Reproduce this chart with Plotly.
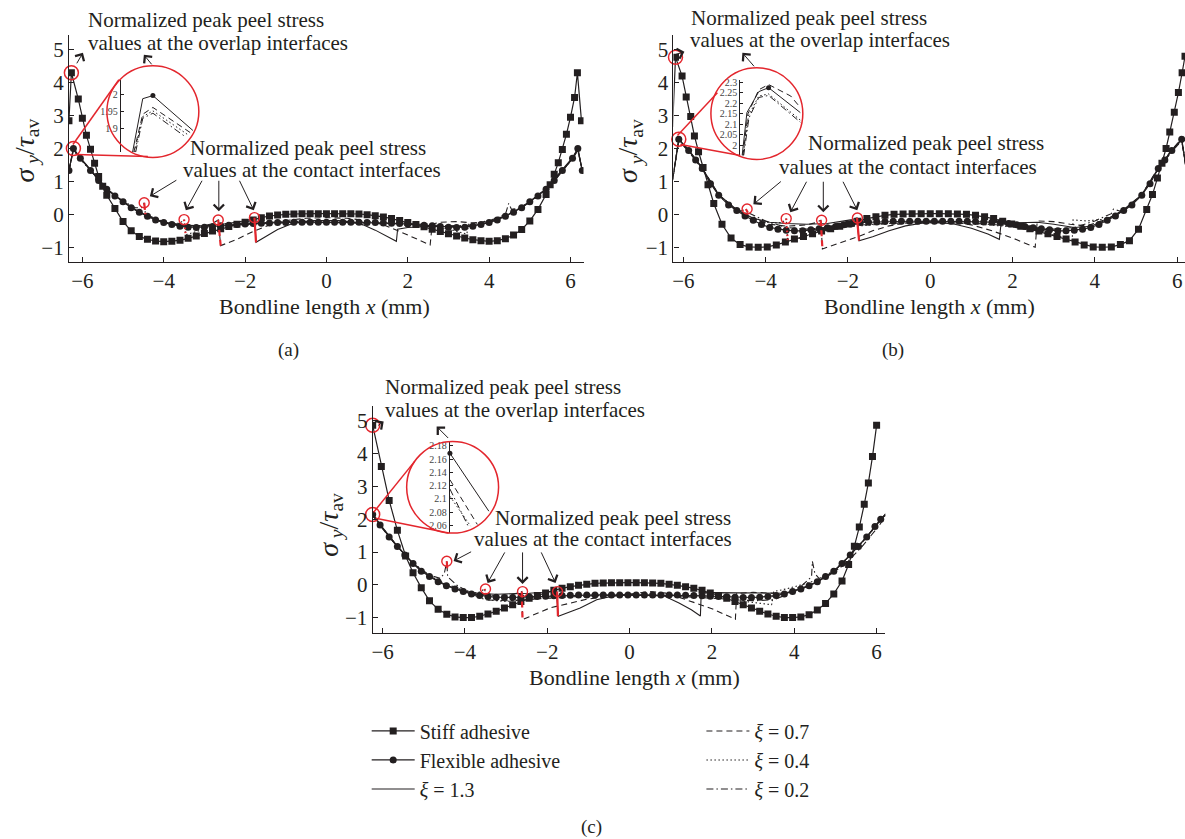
import plotly.graph_objects as go

W, H = 1185, 839
FONT = "Liberation Serif"
INK = "#231f20"
RED = "#e3262d"

# ============================ DATA ============================
X_TICKS = [-6, -4, -2, 0, 2, 4, 6]
Y_TICKS = [-1, 0, 1, 2, 3, 4, 5]
SERIES_NAMES = ["Stiff adhesive", "Flexible adhesive"]
XI_NAMES = ["<i>ξ</i> = 1.3", "<i>ξ</i> = 0.7", "<i>ξ</i> = 0.4", "<i>ξ</i> = 0.2"]
OVERLAP_TEXT = ["Normalized peak peel stress", "values at the overlap interfaces"]
CONTACT_TEXT = ["Normalized peak peel stress", "values at the contact interfaces"]
PANEL_LABELS = ["(a)", "(b)", "(c)"]

# ---------- panel (a) ----------
STIFF_A_X = [-6.33, -6.27, -6.1, -6.0, -5.9, -5.8, -5.7, -5.6, -5.5, -5.4, -5.2, -5.0, -4.8, -4.6, -4.4,
             -4.2, -4.0, -3.8, -3.6, -3.4, -3.2, -3.0, -2.8, -2.6, -2.4, -2.2, -2.0, -1.8, -1.6, -1.4,
             -1.2, -1.0, -0.8, -0.6, -0.4, -0.2, 0.0, 0.2, 0.4, 0.6, 0.8, 1.0, 1.2, 1.4, 1.6, 1.8, 2.0,
             2.2, 2.4, 2.6, 2.8, 3.0, 3.2, 3.4, 3.6, 3.8, 4.0, 4.2, 4.4, 4.6, 4.8, 5.0, 5.2, 5.4, 5.5,
             5.6, 5.7, 5.8, 5.9, 6.0, 6.1, 6.17, 6.27]
STIFF_A_Y = [2.84, 4.3, 3.5, 2.92, 2.4, 1.98, 1.55, 1.15, 0.85, 0.58, 0.18, -0.22, -0.5, -0.67, -0.76,
             -0.81, -0.83, -0.82, -0.79, -0.73, -0.66, -0.58, -0.51, -0.44, -0.37, -0.3, -0.24, -0.17,
             -0.1, -0.05, -0.02, 0.0, 0.01, 0.02, 0.02, 0.02, 0.02, 0.02, 0.02, 0.02, 0.01, -0.01,
             -0.04, -0.08, -0.13, -0.19, -0.25, -0.31, -0.38, -0.45, -0.52, -0.59, -0.66, -0.72,
             -0.77, -0.8, -0.82, -0.8, -0.74, -0.63, -0.46, -0.2, 0.15, 0.6, 0.9, 1.22, 1.57, 1.97,
             2.43, 2.95, 3.55, 4.3, 2.84]
FLEX_A_X = [-6.33, -6.22, -6.05, -5.8, -5.6, -5.4, -5.2, -5.0, -4.8, -4.6, -4.4, -4.2, -4.0, -3.8, -3.6,
            -3.4, -3.2, -3.0, -2.8, -2.6, -2.4, -2.2, -2.0, -1.8, -1.6, -1.4, -1.2, -1.0, -0.8, -0.6,
            -0.4, -0.2, 0.0, 0.2, 0.4, 0.6, 0.8, 1.0, 1.2, 1.4, 1.6, 1.8, 2.0, 2.2, 2.4, 2.6, 2.8, 3.0,
            3.2, 3.4, 3.6, 3.8, 4.0, 4.2, 4.4, 4.6, 4.8, 5.0, 5.2, 5.4, 5.6, 5.8, 6.05, 6.18, 6.29]
FLEX_A_Y = [1.33, 2.0, 1.7, 1.33, 1.03, 0.76, 0.56, 0.38, 0.2, 0.06, -0.06, -0.17, -0.25, -0.31, -0.36,
            -0.39, -0.4, -0.39, -0.37, -0.35, -0.33, -0.31, -0.29, -0.28, -0.27, -0.26, -0.25, -0.25,
            -0.24, -0.24, -0.24, -0.24, -0.24, -0.24, -0.24, -0.24, -0.24, -0.25, -0.25, -0.26, -0.27,
            -0.28, -0.29, -0.31, -0.33, -0.35, -0.37, -0.39, -0.4, -0.39, -0.36, -0.31, -0.25, -0.17,
            -0.06, 0.06, 0.2, 0.38, 0.56, 0.76, 1.03, 1.33, 1.7, 2.0, 1.33]
XI13_A_X = [-6.33, -6.22, -6.05, -5.8, -5.4, -5.0, -4.6, -4.2, -3.8, -3.4, -3.0, -2.6, -2.2, -1.95, -1.77,
            -1.73, -1.5, -1.2, -0.9, -0.6, -0.3, 0.0, 0.3, 0.6, 0.9, 1.2, 1.5, 1.72, 1.75, 2.0, 2.5, 3.0,
            3.4, 3.8, 4.2, 4.6, 5.0, 5.4, 5.8, 6.05, 6.18, 6.29]
XI13_A_Y = [1.33, 2.0, 1.72, 1.35, 0.78, 0.39, 0.07, -0.16, -0.29, -0.35, -0.35, -0.31, -0.25, -0.19, -0.1,
            -0.85, -0.68, -0.46, -0.31, -0.23, -0.19, -0.18, -0.19, -0.23, -0.32, -0.48, -0.67, -0.82,
            -0.45, -0.4, -0.37, -0.37, -0.37, -0.3, -0.16, 0.07, 0.39, 0.78, 1.35, 1.72, 2.0, 1.33]
XI07_A_X = [-6.33, -6.22, -6.05, -5.8, -5.4, -5.0, -4.6, -4.2, -3.8, -3.4, -3.0, -2.8, -2.66, -2.6, -2.2,
            -1.8, -1.4, -1.0, -0.5, 0.0, 0.5, 1.0, 1.4, 1.8, 2.2, 2.55, 2.6, 2.8, 3.2, 3.6, 4.0, 4.4,
            4.8, 5.2, 5.6, 5.9, 6.05, 6.18, 6.29]
XI07_A_Y = [1.33, 1.96, 1.7, 1.34, 0.77, 0.38, 0.06, -0.17, -0.3, -0.36, -0.34, -0.28, -0.17, -0.95,
            -0.76, -0.52, -0.32, -0.19, -0.12, -0.1, -0.12, -0.19, -0.32, -0.52, -0.74, -0.93, -0.3,
            -0.24, -0.22, -0.26, -0.22, -0.04, 0.2, 0.55, 1.0, 1.45, 1.7, 1.96, 1.33]
XI04_A_X = [-6.33, -6.22, -6.05, -5.8, -5.4, -5.0, -4.6, -4.2, -3.8, -3.6, -3.5, -3.46, -3.0, -2.5, -2.0,
            -1.0, 0.0, 1.0, 2.0, 2.5, 3.0, 3.45, 3.5, 3.8, 4.2, 4.6, 5.0, 5.4, 5.8, 6.05, 6.18, 6.29]
XI04_A_Y = [1.33, 1.95, 1.69, 1.33, 0.77, 0.38, 0.06, -0.15, -0.27, -0.27, -0.16, -0.62, -0.45, -0.34,
            -0.28, -0.22, -0.2, -0.22, -0.28, -0.34, -0.45, -0.6, -0.3, -0.24, -0.12, 0.07, 0.38, 0.77,
            1.33, 1.69, 1.95, 1.33]
XI02_A_X = [-6.33, -6.22, -6.05, -5.8, -5.4, -5.0, -4.7, -4.55, -4.48, -4.45, -4.0, -3.5, -3.0, -2.0, -1.0,
            0.0, 1.0, 2.0, 3.0, 3.5, 4.0, 4.4, 4.48, 4.55, 4.8, 5.0, 5.4, 5.8, 6.05, 6.18, 6.29]
XI02_A_Y = [1.33, 1.94, 1.68, 1.32, 0.76, 0.4, 0.2, 0.2, 0.35, 0.0, -0.22, -0.33, -0.35, -0.3, -0.26,
            -0.25, -0.26, -0.3, -0.35, -0.33, -0.2, 0.0, 0.33, 0.15, 0.2, 0.38, 0.76, 1.32, 1.68, 1.94, 1.33]
RED_A_X = [[-1.77, -1.73], [-2.66, -2.6], [-3.5, -3.46], [-4.48, -4.45]]
RED_A_Y = [[-0.1, -0.85], [-0.17, -0.95], [-0.16, -0.62], [0.35, 0.0]]
CONTACT_A_X = [-4.48, -3.5, -2.66, -1.77]
CONTACT_A_Y = [0.35, -0.16, -0.17, -0.1]
OVERLAP_A_X = [-6.27, -6.22]
OVERLAP_A_Y = [4.3, 2.0]

# ---------- panel (b) ----------
STIFF_B_X = [-6.26, -6.19, -6.03, -5.93, -5.82, -5.73, -5.63, -5.52, -5.4, -5.26, -5.06, -4.84, -4.62,
             -4.4, -4.18, -3.96, -3.74, -3.52, -3.3, -3.08, -2.86, -2.64, -2.42, -2.2, -1.98, -1.76,
             -1.54, -1.32, -1.1, -0.88, -0.66, -0.44, -0.22, 0.0, 0.22, 0.44, 0.66, 0.88, 1.1, 1.32,
             1.54, 1.76, 1.98, 2.2, 2.42, 2.64, 2.86, 3.08, 3.3, 3.52, 3.74, 3.96, 4.18, 4.4, 4.62,
             4.84, 5.06, 5.26, 5.4, 5.52, 5.63, 5.73, 5.82, 5.93, 6.03, 6.12, 6.19]
STIFF_B_Y = [2.65, 4.77, 4.2, 3.56, 2.97, 2.38, 1.9, 1.42, 0.9, 0.33, -0.3, -0.72, -0.92, -0.99, -1.0,
             -0.99, -0.93, -0.84, -0.75, -0.67, -0.59, -0.51, -0.44, -0.36, -0.29, -0.21, -0.13, -0.07,
             -0.03, 0.0, 0.01, 0.02, 0.02, 0.02, 0.02, 0.02, 0.01, 0.0, -0.03, -0.07, -0.13, -0.21,
             -0.29, -0.36, -0.44, -0.51, -0.59, -0.67, -0.75, -0.84, -0.93, -0.99, -1.0, -0.99, -0.92,
             -0.8, -0.45, 0.15, 0.6, 1.1, 1.55, 2.0, 2.5, 3.1, 3.7, 4.3, 4.8]
FLEX_B_X = [-6.26, -6.11, -5.87, -5.7, -5.54, -5.34, -5.14, -4.9, -4.7, -4.5, -4.3, -4.1, -3.9, -3.7, -3.5,
            -3.3, -3.1, -2.9, -2.7, -2.5, -2.3, -2.1, -1.9, -1.7, -1.5, -1.3, -1.1, -0.9, -0.7, -0.5,
            -0.3, -0.1, 0.1, 0.3, 0.5, 0.7, 0.9, 1.1, 1.3, 1.5, 1.7, 1.9, 2.1, 2.3, 2.5, 2.7, 2.9, 3.1,
            3.3, 3.5, 3.7, 3.9, 4.1, 4.3, 4.5, 4.7, 4.9, 5.14, 5.34, 5.54, 5.7, 5.87, 6.11, 6.26]
FLEX_B_Y = [1.05, 2.28, 1.94, 1.65, 1.39, 0.93, 0.58,
            0.28, 0.12, -0.05, -0.18, -0.31, -0.4, -0.45, -0.48, -0.5, -0.5, -0.47, -0.44, -0.41,
            -0.37, -0.32, -0.28, -0.25, -0.24, -0.23, -0.22, -0.21, -0.21, -0.21, -0.21, -0.21,
            -0.21, -0.21, -0.21, -0.21, -0.21, -0.22, -0.23, -0.24, -0.25, -0.28, -0.32, -0.37,
            -0.41, -0.44, -0.47, -0.5, -0.5, -0.48, -0.45, -0.4, -0.31, -0.18, -0.05, 0.12, 0.28,
            0.58, 0.93, 1.39, 1.65, 1.94, 2.28, 1.05]
XI13_B_X = [-6.26, -6.11, -5.87, -5.54, -5.14, -4.7, -4.3, -3.9, -3.5, -3.0, -2.5, -2.1, -1.9, -1.78, -1.73,
            -1.4, -1.0, -0.6, -0.2, 0.2, 0.6, 1.0, 1.4, 1.68, 1.72, 2.0, 2.6, 3.0, 3.5, 3.9, 4.3, 4.7,
            5.14, 5.54, 5.87, 6.11, 6.26]
XI13_B_Y = [1.05, 2.28, 1.95, 1.4, 0.6, 0.14, -0.12, -0.24, -0.28, -0.3, -0.28, -0.2, -0.16, -0.11, -0.8,
            -0.68, -0.5, -0.35, -0.27, -0.25, -0.3, -0.42, -0.6, -0.76, -0.28, -0.26, -0.24, -0.3, -0.4,
            -0.36, -0.16, 0.14, 0.6, 1.4, 1.95, 2.28, 1.05]
XI07_B_X = [-6.26, -6.11, -5.87, -5.54, -5.14, -4.7, -4.3, -3.9, -3.5, -3.0, -2.8, -2.66, -2.62, -2.2, -1.8,
            -1.4, -1.0, -0.5, 0.0, 0.5, 1.0, 1.5, 2.0, 2.55, 2.6, 3.0, 3.4, 3.8, 4.3, 4.7, 5.14, 5.54,
            5.87, 6.11, 6.26]
XI07_B_Y = [1.05, 2.3, 1.96, 1.41, 0.6, 0.13, -0.14, -0.3, -0.36, -0.32, -0.26, -0.18, -1.05, -0.88, -0.7,
            -0.5, -0.35, -0.25, -0.2, -0.22, -0.32, -0.5, -0.72, -1.0, -0.2, -0.22, -0.3, -0.35, -0.14,
            0.13, 0.6, 1.41, 1.96, 2.3, 1.05]
XI04_B_X = [-6.26, -6.11, -5.87, -5.54, -5.14, -4.7, -4.3, -3.9, -3.6, -3.5, -3.46, -3.0, -2.5, -2.0, -1.0,
            0.0, 1.0, 2.0, 2.5, 3.0, 3.45, 3.47, 3.8, 4.3, 4.7, 5.14, 5.54, 5.87, 6.11, 6.26]
XI04_B_Y = [1.05, 2.24, 1.92, 1.38, 0.58, 0.12, -0.14, -0.26, -0.25, -0.13, -0.85, -0.65, -0.5, -0.38,
            -0.28, -0.24, -0.28, -0.38, -0.5, -0.62, -0.78, -0.17, -0.2, -0.14, 0.12, 0.58, 1.38, 1.92,
            2.24, 1.05]
XI02_B_X = [-6.26, -6.11, -5.87, -5.54, -5.14, -4.8, -4.6, -4.48, -4.43, -4.0, -3.5, -3.0, -2.0, -1.0, 0.0,
            1.0, 2.0, 3.0, 3.5, 4.0, 4.4, 4.45, 4.6, 4.8, 5.14, 5.54, 5.87, 6.11, 6.26]
XI02_B_Y = [1.05, 2.23, 1.91, 1.37, 0.58, 0.2, 0.1, 0.16, 0.05, -0.2, -0.4, -0.45, -0.35, -0.27, -0.25,
            -0.27, -0.35, -0.45, -0.4, -0.2, 0.02, 0.16, 0.1, 0.2, 0.58, 1.37, 1.91, 2.23, 1.05]
RED_B_X = [[-1.78, -1.73], [-2.66, -2.62], [-3.5, -3.46], [-4.48, -4.43]]
RED_B_Y = [[-0.11, -0.8], [-0.18, -1.05], [-0.13, -0.85], [0.16, 0.05]]
CONTACT_B_X = [-4.45, -3.5, -2.64, -1.77]
CONTACT_B_Y = [0.16, -0.13, -0.18, -0.11]
OVERLAP_B_X = [-6.19, -6.11]
OVERLAP_B_Y = [4.77, 2.28]

# ---------- panel (c) ----------
STIFF_C_X = [-6.24, -6.03, -5.84, -5.64, -5.44, -5.26, -5.06, -4.86, -4.65, -4.44, -4.24, -4.04, -3.84,
             -3.64, -3.44, -3.24, -3.04, -2.84, -2.64, -2.44, -2.24, -2.04, -1.84, -1.64, -1.44, -1.24,
             -1.04, -0.84, -0.64, -0.44, -0.24, -0.04, 0.16, 0.36, 0.56, 0.76, 0.96, 1.16, 1.36, 1.56,
             1.76, 1.96, 2.16, 2.36, 2.56, 2.76, 2.96, 3.16, 3.36, 3.56, 3.76, 3.96, 4.16, 4.36, 4.56,
             4.76, 4.96, 5.16, 5.32, 5.46, 5.58, 5.7, 5.8, 5.9, 6.0]
STIFF_C_Y = [4.85, 3.6, 2.57, 1.66, 0.88, 0.37, -0.08, -0.48, -0.74, -0.89, -0.97, -0.99, -0.99, -0.95,
             -0.88, -0.8, -0.7, -0.6, -0.5, -0.4, -0.32, -0.24, -0.16, -0.1, -0.05, -0.01, 0.02, 0.05,
             0.06, 0.07, 0.07, 0.07, 0.07, 0.07, 0.06, 0.05, 0.02, -0.01, -0.05, -0.1, -0.16, -0.24,
             -0.32, -0.4, -0.5, -0.6, -0.7, -0.8, -0.88, -0.95, -0.99, -0.99, -0.97, -0.9, -0.76,
             -0.56, -0.27, 0.12, 0.62, 1.18, 1.76, 2.45, 3.1, 3.9, 4.85]
FLEX_C_X = [-6.24, -6.06, -5.84, -5.64, -5.46, -5.26, -5.06, -4.86, -4.65, -4.45, -4.24, -4.04,
            -3.84, -3.64, -3.44, -3.24, -3.04, -2.84, -2.64, -2.44, -2.24, -2.04, -1.84, -1.64, -1.44,
            -1.24, -1.04, -0.84, -0.64, -0.44, -0.24, -0.04, 0.16, 0.36, 0.56, 0.76, 0.96, 1.16, 1.36,
            1.56, 1.76, 1.96, 2.16, 2.36, 2.56, 2.76, 2.96, 3.16, 3.36, 3.56, 3.76, 3.96, 4.16, 4.36,
            4.56, 4.76, 4.96, 5.16, 5.36, 5.56, 5.76, 5.96, 6.1, 6.22]
FLEX_C_Y = [2.14, 1.82, 1.46, 1.17, 0.91, 0.65, 0.42, 0.26, 0.1, -0.02, -0.12, -0.2,
            -0.27, -0.32, -0.35, -0.37, -0.38, -0.38, -0.37, -0.36, -0.35, -0.34, -0.33, -0.32, -0.31,
            -0.3, -0.3, -0.3, -0.3, -0.3, -0.3, -0.3, -0.3, -0.3, -0.3, -0.3, -0.3, -0.3, -0.31,
            -0.32, -0.33, -0.34, -0.35, -0.36, -0.37, -0.38, -0.38, -0.37, -0.35, -0.32, -0.27, -0.2,
            -0.12, -0.02, 0.1, 0.26, 0.42, 0.65, 0.91, 1.17, 1.46, 1.78, 2.0, 2.15]
XI13_C_X = [-6.24, -6.06, -5.64, -5.26, -4.86, -4.45, -4.04, -3.64, -3.24, -2.84, -2.44, -2.1, -1.9, -1.78,
            -1.73, -1.2, -0.8, -0.4, 0.0, 0.4, 0.83, 1.2, 1.5, 1.72, 1.74, 2.0, 2.6, 3.0, 3.4, 3.76,
            4.16, 4.56, 4.96, 5.36, 5.76, 6.1, 6.22]
XI13_C_Y = [2.17, 1.84, 1.18, 0.66, 0.27, -0.01, -0.18, -0.26, -0.28, -0.27, -0.25, -0.22, -0.2, -0.18,
            -0.95, -0.7, -0.45, -0.33, -0.3, -0.31, -0.33, -0.55, -0.75, -0.94, -0.24, -0.23, -0.23,
            -0.23, -0.24, -0.25, -0.11, 0.1, 0.42, 0.91, 1.46, 2.0, 2.17]
XI07_C_X = [-6.24, -6.06, -5.64, -5.26, -4.86, -4.45, -4.04, -3.64, -3.24, -2.9, -2.7, -2.62, -2.6, -1.92,
            -1.03, -0.06, 0.5, 0.92, 1.5, 2.0, 2.57, 2.6, 3.0, 3.4, 3.76, 4.16, 4.56, 4.96, 5.36, 5.76,
            6.1, 6.22]
XI07_C_Y = [2.13, 1.82, 1.17, 0.65, 0.26, -0.02, -0.2, -0.29, -0.32, -0.3, -0.24, -0.2, -1.05, -0.69,
            -0.43, -0.27, -0.2, -0.25, -0.5, -0.72, -1.04, -0.26, -0.22, -0.24, -0.27, -0.13, 0.09,
            0.41, 0.9, 1.45, 1.98, 2.13]
XI04_C_X = [-6.24, -6.06, -5.64, -5.26, -4.86, -4.45, -4.04, -3.7, -3.52, -3.48, -3.0, -2.5, -2.0, -1.0,
            0.0, 1.0, 2.0, 2.5, 3.0, 3.45, 3.5, 3.8, 4.16, 4.56, 4.96, 5.36, 5.76, 6.1, 6.22]
XI04_C_Y = [2.12, 1.81, 1.17, 0.66, 0.28, 0.02, -0.15, -0.25, -0.12, -0.45, -0.5, -0.45, -0.38, -0.32,
            -0.3, -0.32, -0.38, -0.45, -0.52, -0.6, -0.2, -0.12, 0.0, 0.15, 0.43, 0.91, 1.46, 1.97, 2.12]
XI02_C_X = [-6.24, -6.06, -5.64, -5.26, -4.86, -4.6, -4.5, -4.44, -4.42, -4.2, -3.8, -3.5, -3.0, -2.0,
            -1.0, 0.0, 1.0, 2.0, 3.0, 3.5, 3.8, 4.2, 4.42, 4.44, 4.5, 4.6, 4.86, 5.26, 5.64, 6.06, 6.22]
XI02_C_Y = [2.11, 1.8, 1.16, 0.66, 0.3, 0.2, 0.35, 0.72, 0.25, 0.0, -0.3, -0.45, -0.48, -0.4, -0.33,
            -0.3, -0.33, -0.4, -0.48, -0.45, -0.3, 0.0, 0.25, 0.72, 0.35, 0.2, 0.3, 0.66, 1.16, 1.8, 2.11]
RED_C_X = [[-1.76, -1.74], [-2.62, -2.6], [-3.52, -3.5], [-4.44, -4.43]]
RED_C_Y = [[-0.2, -0.95], [-0.2, -1.05], [-0.12, -0.3], [0.72, 0.5]]
CONTACT_C_X = [-4.44, -3.5, -2.6, -1.75]
CONTACT_C_Y = [0.72, -0.12, -0.2, -0.2]
OVERLAP_C_X = [-6.24, -6.24]
OVERLAP_C_Y = [4.85, 2.14]

# ---------- zoomed insets (peak of flexible adhesive curves) ----------
INSET_A_X = [[-6.262, -6.229, -6.196, -6.066], [-6.258, -6.229, -6.196, -6.075],
             [-6.255, -6.229, -6.196, -6.08], [-6.252, -6.229, -6.196, -6.09]]
INSET_A_Y = [[1.83, 1.988, 1.997, 1.894], [1.83, 1.942, 1.962, 1.888],
             [1.83, 1.935, 1.952, 1.88], [1.83, 1.93, 1.945, 1.875]]
INSET_A_DOT = ([-6.196], [1.997])
INSET_A_TICKS = [1.9, 1.95, 2.0]
INSET_A_TICKTEXT = ["1.9", "1.95", "2"]

INSET_B_X = [[-6.293, -6.274, -6.227, -6.188, -6.062], [-6.29, -6.27, -6.227, -6.188, -6.1, -6.062],
             [-6.289, -6.268, -6.227, -6.188, -6.062], [-6.287, -6.266, -6.227, -6.188, -6.062]]
INSET_B_Y = [[1.95, 2.156, 2.256, 2.275, 2.156], [1.95, 2.15, 2.265, 2.29, 2.235, 2.18],
             [1.95, 2.14, 2.235, 2.245, 2.12], [1.95, 2.13, 2.228, 2.238, 2.11]]
INSET_B_DOT = ([-6.188], [2.275])
INSET_B_TICKS = [2.0, 2.05, 2.1, 2.15, 2.2, 2.25, 2.3]
INSET_B_TICKTEXT = ["2", "2.05", "2.1", "2.15", "2.2", "2.25", "2.3"]

INSET_C_X = [[-6.24, -6.044], [-6.24, -6.102], [-6.24, -6.136], [-6.24, -6.15]]
INSET_C_Y = [[2.169, 2.0815], [2.129, 2.0615], [2.104, 2.059], [2.115, 2.06]]
INSET_C_DOT = ([-6.24], [2.169])
INSET_C_TICKS = [2.06, 2.08, 2.1, 2.12, 2.14, 2.16, 2.18]
INSET_C_TICKTEXT = ["2.06", "2.08", "2.1", "2.12", "2.14", "2.16", "2.18"]

# ============================ STYLE / LAYOUT ============================
def px(v):
    return v / W


def py(v):
    return 1 - v / H


XI_DASH = ["solid", "6px,4px", "1.5px,2.5px", "7px,3px,1.5px,3px"]
XI_LEGEND = ["legend", "legend2", "legend2", "legend2"]

PANELS = [
    dict(xr="x", yr="y", stiff=(STIFF_A_X, STIFF_A_Y), flex=(FLEX_A_X, FLEX_A_Y),
         xi=[(XI13_A_X, XI13_A_Y), (XI07_A_X, XI07_A_Y), (XI04_A_X, XI04_A_Y), (XI02_A_X, XI02_A_Y)],
         red=(RED_A_X, RED_A_Y), contact=(CONTACT_A_X, CONTACT_A_Y), overlap=(OVERLAP_A_X, OVERLAP_A_Y),
         dom_x=(68, 583), dom_y=(32, 260), xrange=(-6.33, 6.32)),
    dict(xr="x2", yr="y2", stiff=(STIFF_B_X, STIFF_B_Y), flex=(FLEX_B_X, FLEX_B_Y),
         xi=[(XI13_B_X, XI13_B_Y), (XI07_B_X, XI07_B_Y), (XI04_B_X, XI04_B_Y), (XI02_B_X, XI02_B_Y)],
         red=(RED_B_X, RED_B_Y), contact=(CONTACT_B_X, CONTACT_B_Y), overlap=(OVERLAP_B_X, OVERLAP_B_Y),
         dom_x=(673, 1185), dom_y=(32, 260), xrange=(-6.24, 6.19)),
    dict(xr="x3", yr="y3", stiff=(STIFF_C_X, STIFF_C_Y), flex=(FLEX_C_X, FLEX_C_Y),
         xi=[(XI13_C_X, XI13_C_Y), (XI07_C_X, XI07_C_Y), (XI04_C_X, XI04_C_Y), (XI02_C_X, XI02_C_Y)],
         red=(RED_C_X, RED_C_Y), contact=(CONTACT_C_X, CONTACT_C_Y), overlap=(OVERLAP_C_X, OVERLAP_C_Y),
         dom_x=(372, 885), dom_y=(404, 632), xrange=(-6.24, 6.21)),
]
Y_RANGE = (-1.45, 5.45)

fig = go.Figure()

for pi, P in enumerate(PANELS):
    first = pi == 0
    for k, (xs, ys) in enumerate(P["xi"]):
        fig.add_trace(go.Scatter(
            x=xs, y=ys, mode="lines", xaxis=P["xr"], yaxis=P["yr"],
            line=dict(color=INK, width=1.1, dash=XI_DASH[k]),
            name=XI_NAMES[k], showlegend=first, legend=XI_LEGEND[k], legendrank=3 + k,
            hoverinfo="skip"))
    fx, fy = P["flex"]
    fig.add_trace(go.Scatter(
        x=fx, y=fy, mode="lines+markers", xaxis=P["xr"], yaxis=P["yr"],
        line=dict(color=INK, width=1.2), marker=dict(symbol="circle", size=7, color=INK),
        name=SERIES_NAMES[1], showlegend=first, legend="legend", legendrank=2))
    sx, sy = P["stiff"]
    fig.add_trace(go.Scatter(
        x=sx, y=sy, mode="lines+markers", xaxis=P["xr"], yaxis=P["yr"],
        line=dict(color=INK, width=1.2), marker=dict(symbol="square", size=7, color=INK),
        name=SERIES_NAMES[0], showlegend=first, legend="legend", legendrank=1))
    rx, ry = P["red"]
    for k in range(4):
        fig.add_trace(go.Scatter(
            x=rx[k], y=ry[k], mode="lines", xaxis=P["xr"], yaxis=P["yr"],
            line=dict(color=RED, width=2.2, dash=XI_DASH[k]), showlegend=False, hoverinfo="skip"))
    cx, cy = P["contact"]
    fig.add_trace(go.Scatter(
        x=cx, y=cy, mode="markers", xaxis=P["xr"], yaxis=P["yr"], cliponaxis=False,
        marker=dict(symbol="circle-open", size=10, color=RED, line=dict(width=1.4)),
        showlegend=False, hoverinfo="skip"))
    ox, oy = P["overlap"]
    fig.add_trace(go.Scatter(
        x=ox, y=oy, mode="markers", xaxis=P["xr"], yaxis=P["yr"], cliponaxis=False,
        marker=dict(symbol="circle-open", size=14, color=RED, line=dict(width=1.5)),
        showlegend=False, hoverinfo="skip"))

# insets
INSETS = [
    dict(xr="x4", yr="y4", xs=INSET_A_X, ys=INSET_A_Y, dot=INSET_A_DOT, ticks=INSET_A_TICKS,
         ticktext=INSET_A_TICKTEXT, dom_x=(120, 197), dom_y=(77, 150), xrange=(-6.30, -6.05),
         yrange=(1.829, 2.044)),
    dict(xr="x5", yr="y5", xs=INSET_B_X, ys=INSET_B_Y, dot=INSET_B_DOT, ticks=INSET_B_TICKS,
         ticktext=INSET_B_TICKTEXT, dom_x=(740, 803), dom_y=(77, 153), xrange=(-6.30, -6.05),
         yrange=(1.951, 2.313)),
    dict(xr="x6", yr="y6", xs=INSET_C_X, ys=INSET_C_Y, dot=INSET_C_DOT, ticks=INSET_C_TICKS,
         ticktext=INSET_C_TICKTEXT, dom_x=(449.3, 497), dom_y=(440, 531.7), xrange=(-6.24, -6.0),
         yrange=(2.0489, 2.1868)),
]
for I in INSETS:
    for k in range(4):
        fig.add_trace(go.Scatter(
            x=I["xs"][k], y=I["ys"][k], mode="lines", xaxis=I["xr"], yaxis=I["yr"],
            line=dict(color=INK, width=1.0, dash=XI_DASH[k]), showlegend=False, hoverinfo="skip"))
    fig.add_trace(go.Scatter(
        x=I["dot"][0], y=I["dot"][1], mode="markers", xaxis=I["xr"], yaxis=I["yr"], cliponaxis=False,
        marker=dict(symbol="circle", size=5, color=INK), showlegend=False, hoverinfo="skip"))

axis_common = dict(showline=True, linecolor=INK, linewidth=1.2, ticks="inside", ticklen=5,
                   tickwidth=1.1, tickcolor=INK, showgrid=False, zeroline=False, fixedrange=True,
                   tickfont=dict(family=FONT, size=21, color=INK))
layout_axes = {}
for i, P in enumerate(PANELS):
    sfx = "" if i == 0 else str(i + 1)
    layout_axes["xaxis" + sfx] = dict(
        axis_common, domain=[px(P["dom_x"][0]), px(P["dom_x"][1])], range=list(P["xrange"]),
        anchor="y" + sfx, tickvals=X_TICKS)
    layout_axes["yaxis" + sfx] = dict(
        axis_common, domain=[py(P["dom_y"][1]), py(P["dom_y"][0])], range=list(Y_RANGE),
        anchor="x" + sfx, tickvals=Y_TICKS)
for j, I in enumerate(INSETS):
    sfx = str(j + 4)
    layout_axes["xaxis" + sfx] = dict(
        domain=[px(I["dom_x"][0]), px(I["dom_x"][1])], range=list(I["xrange"]), visible=False,
        anchor="y" + sfx, fixedrange=True)
    layout_axes["yaxis" + sfx] = dict(
        domain=[py(I["dom_y"][1]), py(I["dom_y"][0])], range=list(I["yrange"]), anchor="x" + sfx,
        showline=True, linecolor=INK, linewidth=1.1, ticks="inside", ticklen=3, tickcolor=INK,
        tickvals=I["ticks"], ticktext=I["ticktext"], showgrid=False, zeroline=False, fixedrange=True,
        tickfont=dict(family=FONT, size=10, color="#444444"))

annotations = []


def text(xp, yp, s, size=21, anchor="left", angle=0):
    annotations.append(dict(x=px(xp), y=py(yp), xref="paper", yref="paper", text=s, showarrow=False,
                            xanchor=anchor, yanchor="middle", textangle=angle,
                            font=dict(family=FONT, size=size, color=INK)))


def arrow(hx, hy, tx, ty):
    annotations.append(dict(x=px(hx), y=py(hy), xref="paper", yref="paper", text="",
                            showarrow=True, ax=tx - hx, ay=ty - hy, axref="pixel", ayref="pixel",
                            arrowhead=4, arrowsize=2.0, arrowwidth=1.0, arrowcolor=INK, standoff=0))


# annotation texts (left x, centre y in px)
TEXT_POS = [
    [(85, 17), (85, 40), (187, 146), (180, 168)],
    [(689, 15), (688, 37), (806, 141), (777, 165)],
    [(382, 385), (382, 408), (492, 517), (471, 538)],
]
for pos in TEXT_POS:
    text(*pos[0], OVERLAP_TEXT[0])
    text(*pos[1], OVERLAP_TEXT[1])
    text(*pos[2], CONTACT_TEXT[0])
    text(*pos[3], CONTACT_TEXT[1])

ARROWS = [
    (82, 50, 75, 62), (143, 52, 152, 63),
    (149, 194, 177, 177), (185, 208, 202, 177), (218, 209, 218, 177), (253, 208, 238, 177),
    (684, 49, 674, 52), (742, 50, 755, 65),
    (753, 202, 782, 178), (790, 210, 807, 178), (823, 210, 823, 178), (857, 208, 842, 178),
    (383, 420, 376, 425), (436, 425, 449, 438),
    (453, 560, 472, 550), (487, 582, 505, 550), (522, 583, 522, 550), (555, 582, 540, 550),
]
for a in ARROWS:
    arrow(*a)

YTITLE = "<i>σ</i><sub> <i>y</i></sub>/<i>τ</i><sub>av</sub>"
XTITLE = "Bondline length <i>x</i> (mm)"
for (xt, yt), (yx, yy), (lx, ly), lab in zip(
        [(324, 305), (929, 305), (634, 677)],
        [(25, 148), (629, 148), (329, 524)],
        [(288, 348), (893, 348), (591, 827)],
        PANEL_LABELS):
    text(xt, yt, XTITLE, size=22, anchor="center")
    text(yx, yy, YTITLE, size=28, anchor="center", angle=-90)
    text(lx, ly, lab, size=19, anchor="center")

# shapes: zoom circles and connector lines
shapes = []
ZOOM_CIRCLES = [(152, 109, 46), (756.5, 111, 46), (452, 486, 46)]
for cx, cy, r in ZOOM_CIRCLES:
    shapes.append(dict(type="circle", xref="paper", yref="paper", x0=px(cx - r), x1=px(cx + r),
                       y0=py(cy + r), y1=py(cy - r), line=dict(color=RED, width=1.5)))
CONNECTORS = [
    (72, 142, 118, 77), (75, 152, 147, 154),
    (677, 133, 717, 90), (680, 142, 740, 153),
    (373, 511, 414, 460), (375, 517, 448, 532),
]
for x0, y0, x1, y1 in CONNECTORS:
    shapes.append(dict(type="line", xref="paper", yref="paper", x0=px(x0), y0=py(y0), x1=px(x1),
                       y1=py(y1), line=dict(color=RED, width=1.5)))

legend_common = dict(xanchor="left", yanchor="top", bgcolor="rgba(0,0,0,0)", orientation="v",
                     font=dict(family=FONT, size=20, color=INK), itemwidth=43, tracegroupgap=0,
                     traceorder="normal", borderwidth=0)

fig.update_layout(
    width=W, height=H, autosize=False,
    margin=dict(l=0, r=0, t=0, b=0, pad=0),
    paper_bgcolor="white", plot_bgcolor="white",
    font=dict(family=FONT, color=INK),
    showlegend=True,
    legend=dict(legend_common, x=px(366), y=py(711)),
    legend2=dict(legend_common, x=px(701), y=py(711)),
    annotations=annotations, shapes=shapes,
    **layout_axes,
)

fig.write_html("out.html")
